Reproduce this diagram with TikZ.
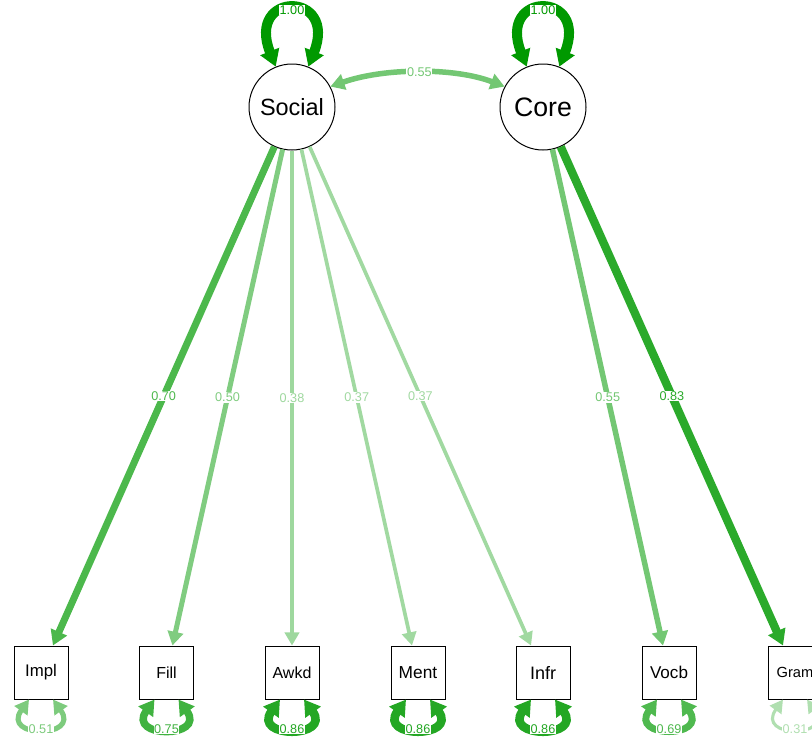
\documentclass[tikz,border=0pt]{standalone}
\usepackage{fontspec}
\setmainfont{Liberation Sans}
\usetikzlibrary{arrows.meta,calc}
\definecolor{sg}{RGB}{0,153,0}
\tikzset{
 lat/.style={circle, draw=black, line width=0.75pt, minimum size=64.5pt, inner sep=0pt, fill=white},
 man/.style={rectangle, draw=black, line width=0.75pt, minimum width=40.5pt, minimum height=39.75pt, inner sep=0pt, fill=white},
 ed/.style={line width=#1*0.075pt, draw=sg!#1!white, -{Triangle[length=8.5pt 0.5, width=8.5pt 0.8]}},
 ded/.style={line width=#1*0.075pt, draw=sg!#1!white, {Triangle[length=8.5pt 0.5, width=8.5pt 0.8]}-{Triangle[length=8.5pt 0.5, width=8.5pt 0.8]}},
 lab/.style={fill=white, inner sep=0.5pt, text=sg!#1!white, font=\fontsize{9.5}{9.5}\selectfont},
}
\begin{document}
\begin{tikzpicture}[x=0.75pt,y=-0.75pt]
\useasboundingbox (0,0) rectangle (812,736);
\clip (0,0) rectangle (812,736);
\node[lat, font=\fontsize{17.6}{20}\selectfont] (soc) at (292,107) {Social};
\node[lat, font=\fontsize{20}{22}\selectfont] (core) at (543,107) {Core};
\foreach \n/\x/\t/\s in {impl/41/Impl/12.6, fill/166.5/Fill/12, awkd/292/Awkd/12, ment/418/Ment/13, infr/543/Infr/13.5, vocb/669/Vocb/12.8, gram/795/Gram/11}
  \node[man, font=\fontsize{\s}{\s}\selectfont] (\n) at (\x,672.5) {\t};
% loadings
\draw[ed=70] (soc) -- node[lab=70]{0.70} (impl);
\draw[ed=50] (soc) -- node[lab=50]{0.50} (fill);
\draw[ed=38] (soc) -- node[lab=38]{0.38} (awkd);
\draw[ed=37] (soc) -- node[lab=37]{0.37} (ment);
\draw[ed=37] (soc) -- node[lab=37]{0.37} (infr);
\draw[ed=55] (core) -- node[lab=55]{0.55} (vocb);
\draw[ed=83] (core) -- node[lab=83]{0.83} (gram);
% covariance
\draw[ded=55] (soc.28) .. controls (385,67.5) and (455,67.5) .. node[lab=55]{0.55} (core.152);
% latent variances
\draw[ded=100] (soc.112) .. controls +(-30,-76) and +(30,-76) .. node[lab=100]{1.00} (soc.68);
\draw[ded=100] (core.112) .. controls +(-30,-76) and +(30,-76) .. node[lab=100]{1.00} (core.68);
% residuals
\foreach \n/\w/\l in {impl/51/0.51, fill/75/0.75, awkd/86/0.86, ment/86/0.86, infr/86/0.86, vocb/69/0.69, gram/31/0.31}
  \draw[ded=\w] ($(\n.south)+(-12,0)$) .. controls +(-28,39) and +(28,39) .. node[lab=\w]{\l} ($(\n.south)+(12,0)$);
\end{tikzpicture}
\end{document}
